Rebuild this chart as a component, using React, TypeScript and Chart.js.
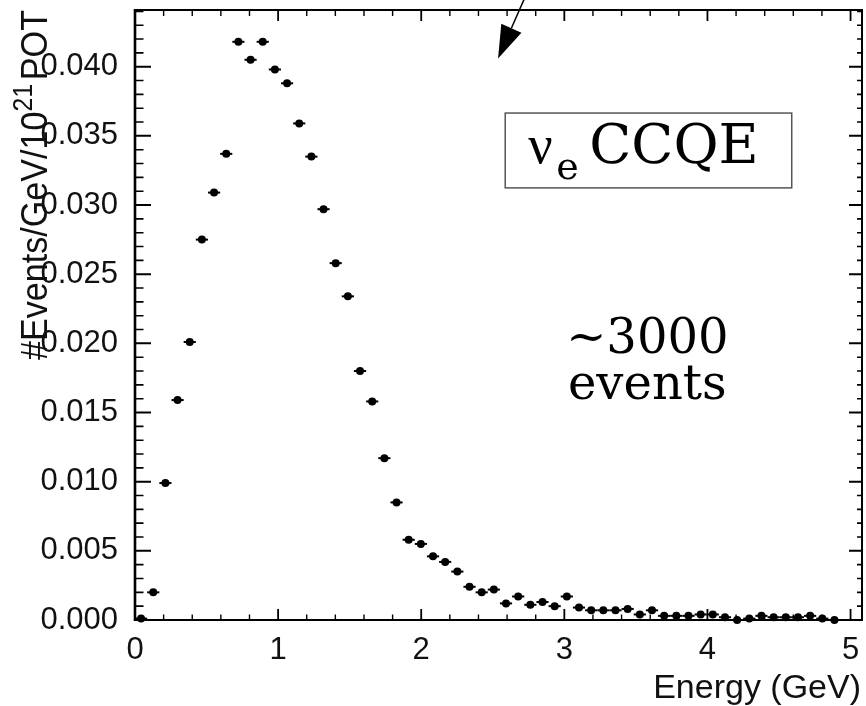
import React, { useEffect, useRef } from 'react';
import { Chart, registerables } from 'chart.js';

Chart.register(...registerables);

// ---- data (bin centres in GeV, events / GeV / 10^21 POT) ----
const energyGeV = [
  0.0425, 0.1275, 0.2125, 0.2975, 0.3825, 0.4675, 0.5525, 0.6375, 0.7225, 0.8075,
  0.8925, 0.9775, 1.0625, 1.1475, 1.2325, 1.3175, 1.4025, 1.4875, 1.5725, 1.6575,
  1.7425, 1.8275, 1.9125, 1.9975, 2.0825, 2.1675, 2.2525, 2.3375, 2.4225, 2.5075,
  2.5925, 2.6775, 2.7625, 2.8475, 2.9325, 3.0175, 3.1025, 3.1875, 3.2725, 3.3575,
  3.4425, 3.5275, 3.6125, 3.6975, 3.7825, 3.8675, 3.9525, 4.0375, 4.1225, 4.2075,
  4.2925, 4.3775, 4.4625, 4.5475, 4.6325, 4.7175, 4.8025, 4.8875,
];
const eventsPerGeV = [
  0.0001, 0.0020, 0.0099, 0.0159, 0.0201, 0.0275, 0.0309, 0.0337, 0.0418, 0.0405,
  0.0418, 0.0398, 0.0388, 0.0359, 0.0335, 0.0297, 0.0258, 0.0234, 0.0180, 0.0158,
  0.0117, 0.0085, 0.0058, 0.0055, 0.0046, 0.0042, 0.0035, 0.0024, 0.0020, 0.0022,
  0.0012, 0.0017, 0.0011, 0.0013, 0.0010, 0.0017, 0.0009, 0.0007, 0.0007, 0.0007,
  0.0008, 0.0004, 0.0007, 0.0003, 0.0003, 0.0003, 0.0004, 0.0004, 0.0002, 0.0000,
  0.0001, 0.0003, 0.0002, 0.0002, 0.0002, 0.0003, 0.0001, 0.0000,
];
const BIN_HALF_WIDTH = 0.0425;

// axis ranges / tick steps
const X_MIN = 0;
const X_MAX = 5.08;
const X_MAJOR = 1;
const X_MINOR = 0.2;
const Y_MIN = 0;
const Y_MAX = 0.0441;
const Y_MAJOR = 0.005;
const Y_MINOR = 0.001;

// texts
const X_TITLE = 'Energy (GeV)';
const Y_TITLE_MAIN = '#Events/GeV/10';
const Y_TITLE_SUP = '21';
const Y_TITLE_END = 'POT';
const BOX_NU = 'ν';
const BOX_SUB = 'e';
const BOX_TEXT = 'CCQE';
const NOTE_LINE1 = '~3000';
const NOTE_LINE2 = 'events';

// annotation anchors in data coordinates
const BOX_X = [2.587, 4.589];
const BOX_Y = [0.03665, 0.03124];
const NOTE_X = 3.58;
const NOTE_Y1 = 0.01927;
const NOTE_Y2 = 0.01595;
const ARROW_FROM = { x: 2.72, y: 0.0449 };
const ARROW_TO = { x: 2.537, y: 0.0406 };

const SANS = '"Liberation Sans", Arial, Helvetica, sans-serif';
const SERIF = '"DejaVu Serif", serif';
const GREEK = '"Liberation Serif", "DejaVu Serif", serif';

const rootStylePlugin = {
  id: 'rootStyle',
  beforeDatasetsDraw(chart: any) {
    const { ctx, scales } = chart;
    const xs = scales.x;
    const ys = scales.y;
    ctx.save();
    ctx.strokeStyle = '#000';
    ctx.lineWidth = 2;
    for (let i = 0; i < energyGeV.length; i++) {
      const py = ys.getPixelForValue(eventsPerGeV[i]);
      const p1 = xs.getPixelForValue(energyGeV[i] - BIN_HALF_WIDTH);
      const p2 = xs.getPixelForValue(energyGeV[i] + BIN_HALF_WIDTH);
      ctx.beginPath();
      ctx.moveTo(p1, py);
      ctx.lineTo(p2, py);
      ctx.stroke();
    }
    ctx.restore();
  },
  afterDraw(chart: any) {
    const { ctx, chartArea, scales } = chart;
    const { left, top, right, bottom } = chartArea;
    const xs = scales.x;
    const ys = scales.y;
    ctx.save();
    ctx.strokeStyle = '#000';
    ctx.fillStyle = '#000';

    // frame
    ctx.lineWidth = 2;
    ctx.strokeRect(left, top, right - left, bottom - top);
    ctx.lineWidth = 2.6;
    ctx.beginPath();
    ctx.moveTo(left, top - 1);
    ctx.lineTo(left, bottom + 1);
    ctx.stroke();

    // y ticks (inside, both sides)
    const nY = Math.round((Y_MAX - Y_MIN) / Y_MINOR);
    const perMajorY = Math.round(Y_MAJOR / Y_MINOR);
    for (let i = 0; i <= nY; i++) {
      const v = Y_MIN + i * Y_MINOR;
      if (v > Y_MAX + 1e-12) break;
      const py = ys.getPixelForValue(v);
      const major = i % perMajorY === 0;
      ctx.lineWidth = major ? 2 : 1.6;
      ctx.beginPath();
      ctx.moveTo(left, py);
      ctx.lineTo(left + (major ? 16 : 8.5), py);
      ctx.moveTo(right, py);
      ctx.lineTo(right - (major ? 13 : 5), py);
      ctx.stroke();
    }
    // x ticks (inside, both sides)
    const nX = Math.round((X_MAX - X_MIN) / X_MINOR);
    const perMajorX = Math.round(X_MAJOR / X_MINOR);
    for (let i = 0; i <= nX; i++) {
      const v = X_MIN + i * X_MINOR;
      if (v > X_MAX + 1e-9) break;
      const px = xs.getPixelForValue(v);
      const major = i % perMajorX === 0;
      ctx.lineWidth = major ? 1.8 : 1.4;
      ctx.beginPath();
      ctx.moveTo(px, bottom);
      ctx.lineTo(px, bottom - (major ? 11 : 5.5));
      ctx.moveTo(px, top);
      ctx.lineTo(px, top + (major ? 11 : 6));
      ctx.stroke();
    }

    // x title
    ctx.font = `34px ${SANS}`;
    ctx.textAlign = 'right';
    ctx.textBaseline = 'alphabetic';
    ctx.fillStyle = '#111';
    ctx.fillText(X_TITLE, right - 1, 698);

    // y title (rotated, ending at the top of the frame)
    ctx.save();
    const mainFont = `37px ${SANS}`;
    const supFont = `27px ${SANS}`;
    ctx.font = mainFont;
    const w1 = ctx.measureText(Y_TITLE_MAIN).width;
    const w3 = ctx.measureText(Y_TITLE_END).width;
    ctx.font = supFont;
    const w2 = ctx.measureText(Y_TITLE_SUP).width;
    const gap = 4;
    const W = w1 + w2 + gap + w3;
    const target = 350;
    const sx = target / W;
    ctx.translate(47, top);
    ctx.rotate(-Math.PI / 2);
    ctx.scale(sx, 1);
    ctx.textAlign = 'left';
    ctx.font = mainFont;
    ctx.fillText(Y_TITLE_MAIN, -W, 0);
    ctx.font = supFont;
    ctx.fillText(Y_TITLE_SUP, -W + w1, -15);
    ctx.font = mainFont;
    ctx.fillText(Y_TITLE_END, -W + w1 + w2 + gap, 0);
    ctx.restore();

    // boxed label
    const bx1 = xs.getPixelForValue(BOX_X[0]);
    const bx2 = xs.getPixelForValue(BOX_X[1]);
    const by1 = ys.getPixelForValue(BOX_Y[0]);
    const by2 = ys.getPixelForValue(BOX_Y[1]);
    ctx.lineWidth = 1.5;
    ctx.strokeStyle = '#555';
    ctx.strokeRect(bx1, by1, bx2 - bx1, by2 - by1);
    ctx.fillStyle = '#000';
    ctx.textAlign = 'left';
    const baseY = by1 + 50;
    ctx.font = `54px ${GREEK}`;
    ctx.fillText(BOX_NU, bx1 + 23, baseY);
    ctx.font = `38px ${SERIF}`;
    ctx.fillText(BOX_SUB, bx1 + 51, baseY + 16);
    ctx.font = `55px ${SERIF}`;
    ctx.fillText(BOX_TEXT, bx1 + 84, baseY);

    // note
    ctx.textAlign = 'center';
    ctx.font = `48px ${SERIF}`;
    const nx = xs.getPixelForValue(NOTE_X);
    ctx.fillText(NOTE_LINE1, nx, ys.getPixelForValue(NOTE_Y1));
    ctx.fillText(NOTE_LINE2, nx, ys.getPixelForValue(NOTE_Y2));

    // arrow
    const ax1 = xs.getPixelForValue(ARROW_FROM.x);
    const ay1 = ys.getPixelForValue(ARROW_FROM.y);
    const ax2 = xs.getPixelForValue(ARROW_TO.x);
    const ay2 = ys.getPixelForValue(ARROW_TO.y);
    const ang = Math.atan2(ay2 - ay1, ax2 - ax1);
    const headLen = 33;
    const headHalf = 11;
    const bxm = ax2 - headLen * Math.cos(ang);
    const bym = ay2 - headLen * Math.sin(ang);
    ctx.strokeStyle = '#000';
    ctx.lineWidth = 1.5;
    ctx.beginPath();
    ctx.moveTo(ax1, ay1);
    ctx.lineTo(bxm, bym);
    ctx.stroke();
    ctx.beginPath();
    ctx.moveTo(ax2, ay2);
    ctx.lineTo(bxm + headHalf * Math.sin(ang), bym - headHalf * Math.cos(ang));
    ctx.lineTo(bxm - headHalf * Math.sin(ang), bym + headHalf * Math.cos(ang));
    ctx.closePath();
    ctx.fill();

    ctx.restore();
  },
};

export default function App() {
  const canvasRef = useRef<HTMLCanvasElement | null>(null);

  useEffect(() => {
    const canvas = canvasRef.current;
    if (!canvas) return;
    const chart = new Chart(canvas, {
      type: 'scatter',
      data: {
        datasets: [
          {
            data: energyGeV.map((x, i) => ({ x, y: eventsPerGeV[i] })),
            pointRadius: 4,
            pointHoverRadius: 4,
            pointBackgroundColor: '#000',
            pointBorderColor: '#000',
            pointBorderWidth: 0,
            showLine: false,
            clip: false as any,
          },
        ],
      },
      options: {
        animation: false,
        responsive: false,
        devicePixelRatio: 1,
        layout: { padding: { top: 10, right: 3, left: 0, bottom: 0 } },
        plugins: { legend: { display: false }, tooltip: { enabled: false } },
        scales: {
          x: {
            type: 'linear',
            min: X_MIN,
            max: X_MAX,
            grid: { display: false, drawTicks: false },
            border: { display: false },
            ticks: {
              stepSize: X_MAJOR,
              includeBounds: false,
              autoSkip: false,
              maxRotation: 0,
              padding: 12,
              color: '#111',
              font: { family: SANS, size: 31 },
              callback: (v: any) => String(Math.round(Number(v))),
            },
            afterFit: (s: any) => {
              s.height = 86;
              s.paddingLeft = 0;
              s.paddingRight = 0;
              s.paddingTop = 0;
              s.paddingBottom = 0;
            },
          },
          y: {
            type: 'linear',
            min: Y_MIN,
            max: Y_MAX,
            grid: { display: false, drawTicks: false },
            border: { display: false },
            ticks: {
              stepSize: Y_MAJOR,
              includeBounds: false,
              autoSkip: false,
              padding: 17,
              color: '#111',
              font: { family: SANS, size: 31 },
              callback: (v: any) => Number(v).toFixed(3),
            },
            afterFit: (s: any) => {
              s.width = 135;
              s.paddingLeft = 0;
              s.paddingRight = 0;
              s.paddingTop = 0;
              s.paddingBottom = 0;
            },
          },
        },
      },
      plugins: [rootStylePlugin],
    });
    return () => chart.destroy();
  }, []);

  return (
    <div style={{ position: 'absolute', left: 0, top: 0, width: 866, height: 706, background: '#fff' }}>
      <canvas ref={canvasRef} width={866} height={706} style={{ display: 'block' }} />
    </div>
  );
}
